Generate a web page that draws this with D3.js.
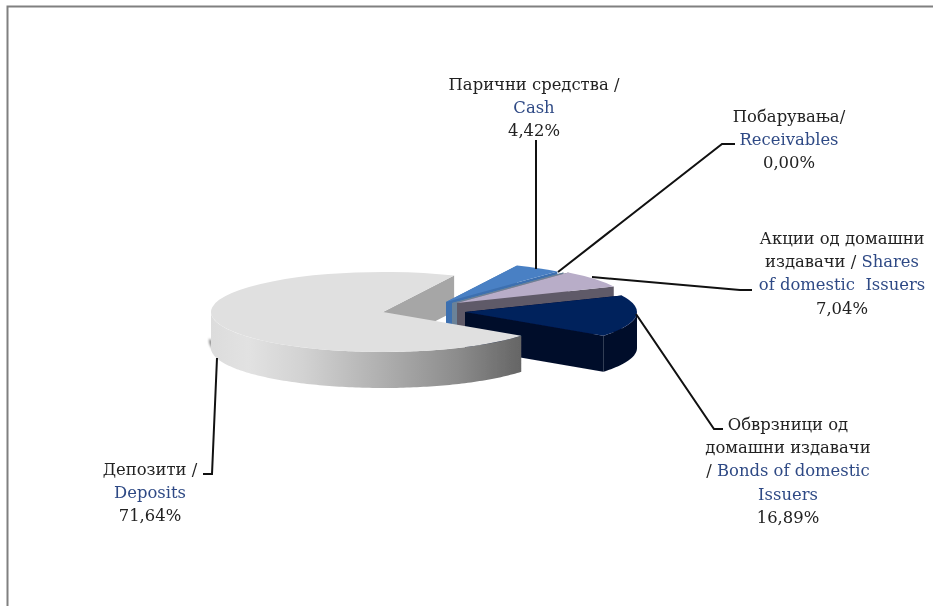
<!DOCTYPE html>
<html><head><meta charset="utf-8">
<script src="https://cdnjs.cloudflare.com/ajax/libs/d3/7.8.5/d3.min.js"></script>
<style>
html,body{margin:0;padding:0;background:#fff;overflow:hidden}
svg{display:block}
text{font-family:"DejaVu Serif",serif;font-size:16.4px;fill:#222}
</style></head><body>
<script>
// data
const categories = ["Deposits","Cash","Receivables","Shares","Bonds"];
const values = [71.64,4.42,0.00,7.04,16.89];

// styling / layout, separate from the data
const topColors  = ["#e0e0e0","#4a80c4","#8a9aa8","#b8adc8","#00205c"];
const wallColors = ["url(#depWall)","#3d70b0","#6b8299","#5f5a68","#000e2c"];
const apexes = [[383,312],[446,302],[452,303],[457,303],[465,312]];
const drawOrder = [1,2,3,4];
const W=933,H=606, RX=172, RY=40, DEPTH=36;
const START=126.5*Math.PI/180;

const labels = [
  {cat:"Cash", lines:[[["Парични средства /","k"]],[["Cash","b"]],[["4,42%","k"]]], x:534, y:90},
  {cat:"Receivables", lines:[[["Побарувања/","k"]],[["Receivables","b"]],[["0,00%","k"]]], x:789, y:122},
  {cat:"Shares", lines:[[["Акции од домашни","k"]],[["издавачи / ","k"],["Shares","b"]],[["of domestic  Issuers","b"]],[["7,04%","k"]]], x:842, y:244},
  {cat:"Bonds", lines:[[["Обврзници од","k"]],[["домашни издавачи","k"]],[["/ ","k"],["Bonds of domestic","b"]],[["Issuers","b"]],[["16,89%","k"]]], x:788, y:430},
  {cat:"Deposits", lines:[[["Депозити /","k"]],[["Deposits","b"]],[["71,64%","k"]]], x:150, y:475}
];
const leaders = {
  Cash:[[536,140],[536,269]],
  Receivables:[[735,144],[722,144],[558,272]],
  Shares:[[752,290],[740,290],[592,277]],
  Bonds:[[723,429],[714,429],[636,314]],
  Deposits:[[203,474],[212,474],[217,358]]
};
const LINE_H=23.2;
const textColor={k:"#222222",b:"#2f4a85"};

const svg=d3.select("body").append("svg").attr("width",W).attr("height",H);
const defs=svg.append("defs");
const g=defs.append("linearGradient").attr("id","depWall").attr("gradientUnits","userSpaceOnUse")
  .attr("x1",211).attr("x2",519).attr("y1",0).attr("y2",0);
[[0,"#dcdcdc"],[0.12,"#e2e2e2"],[0.3,"#d2d2d2"],[0.55,"#b0b0b0"],[0.8,"#8c8c8c"],[1,"#666666"]]
  .forEach(s=>g.append("stop").attr("offset",s[0]).attr("stop-color",s[1]));
defs.append("filter").attr("id","soft").attr("x","-10%").attr("y","-10%").attr("width","120%").attr("height","120%")
  .append("feGaussianBlur").attr("stdDeviation",0.5);
defs.append("filter").attr("id","shadow").attr("x","-10%").attr("y","-20%").attr("width","120%").attr("height","140%")
  .append("feGaussianBlur").attr("stdDeviation",1.2);
defs.append("filter").attr("id","softText").attr("x","-5%").attr("y","-5%").attr("width","110%").attr("height","110%")
  .append("feGaussianBlur").attr("stdDeviation",0.3);

// frame
svg.append("path").attr("d",`M7.5,${H}V6.5H${W}`).attr("fill","none").attr("stroke","#808080").attr("stroke-width",2);

const pie=d3.pie().sort(null).value(d=>d).startAngle(START).endAngle(START+2*Math.PI);
const arcs=pie(values);
const arcGen=d3.arc().innerRadius(0).outerRadius(RX);
const sx=d3.scaleLinear().domain([-1,1]).range([-RX,RX]);
const sy=d3.scaleLinear().domain([-1,1]).range([-RY,RY]);
const pt=(a,ap,dy=0)=>[ap[0]+sx(Math.sin(a)),ap[1]-sy(Math.cos(a))+dy];
const line=d3.line();
const sweep=(a0,a1,ap,dy=0)=>{const n=Math.max(1,Math.ceil(Math.abs(a1-a0)/0.02));
  return d3.range(n+1).map(i=>pt(a0+(a1-a0)*i/n,ap,dy));};

const pieG=svg.append("g").attr("filter","url(#soft)");
const drawFace=(ap,a,fill)=>{const e=pt(a,ap);
  pieG.append("path").attr("d",line([ap,e,[e[0],e[1]+DEPTH],[ap[0],ap[1]+DEPTH]])+"Z").attr("fill",fill);};
// outer wall: only the front half of the ellipse (angles facing the viewer)
const drawBand=(ap,a0,a1,fill)=>{
  [0,2*Math.PI].forEach(off=>{
    const b0=Math.max(a0,Math.PI/2+off), b1=Math.min(a1,1.5*Math.PI+off);
    if(b1>b0) pieG.append("path").attr("d",line(sweep(b0,b1,ap).concat(sweep(b1,b0,ap,DEPTH)))+"Z").attr("fill",fill);
  });
};
const drawTop=(i)=>pieG.append("path").attr("d",arcGen(arcs[i]))
    .attr("transform",`translate(${apexes[i][0]},${apexes[i][1]}) scale(1,${RY/RX})`).attr("fill",topColors[i]);

// soft shadow at the lower left of the large slice
pieG.append("path")
  .attr("d",line(sweep(Math.PI*1.3,Math.PI*1.52,[apexes[0][0]-2,apexes[0][1]],DEPTH-7))+"Z")
  .attr("fill","#8f8f8f").attr("filter","url(#shadow)");

// inner cut face of the large slice sits behind the small slices
drawFace(apexes[0],arcs[0].endAngle,"#a6a6a6");

drawOrder.forEach(i=>{
  const d=arcs[i], ap=apexes[i];
  drawFace(ap,d.endAngle,wallColors[i]);
  drawFace(ap,d.startAngle,wallColors[i]);
  drawBand(ap,d.startAngle,d.endAngle,wallColors[i]);
  drawTop(i);
});
drawBand(apexes[0],arcs[0].startAngle,arcs[0].endAngle,wallColors[0]);
drawTop(0);

// leader lines
categories.forEach(c=>{
  svg.append("path").attr("d",line(leaders[c])).attr("fill","none").attr("stroke","#111").attr("stroke-width",2);
});

// labels
const textG=svg.append("g").attr("filter","url(#softText)");
labels.forEach(l=>{
  const t=textG.append("text").attr("text-anchor","middle").attr("xml:space","preserve");
  l.lines.forEach((spans,i)=>{
    spans.forEach((s,j)=>{
      const ts=t.append("tspan").text(s[0]).style("fill",textColor[s[1]]);
      if(j===0) ts.attr("x",l.x).attr("y",l.y+i*LINE_H);
    });
  });
});
</script>
</body></html>
